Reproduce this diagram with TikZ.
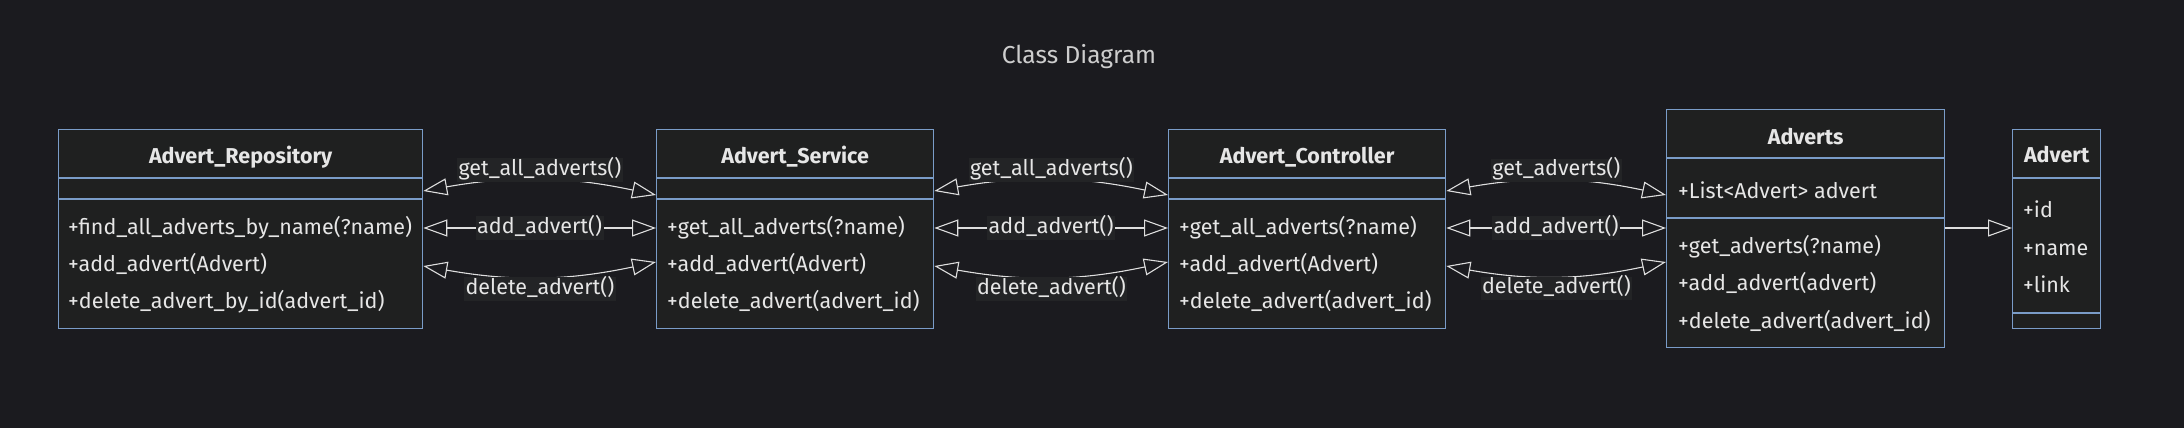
\documentclass[tikz,border=0pt]{standalone}
\usepackage{fontspec}
\setmainfont{Fira Sans}
\usetikzlibrary{positioning}
\usetikzlibrary{arrows.meta}
\usetikzlibrary{calc}

\definecolor{bgcol}{RGB}{27,27,31}
\definecolor{boxfill}{RGB}{31,32,32}
\definecolor{boxline}{RGB}{122,156,200}
\definecolor{edgecol}{RGB}{222,222,222}
\definecolor{txtcol}{RGB}{230,230,230}
\definecolor{titlecol}{RGB}{205,205,205}
\definecolor{lblbg}{RGB}{35,36,38}

\tikzset{opentri/.tip={Triangle[open, length=24pt, width=17pt]}}

\begin{document}
\begin{tikzpicture}[x=1pt, y=-1pt,
  every node/.style={font=\fontsize{21.5}{25}\selectfont, text=txtcol},
  classbox/.style={draw=boxline, fill=boxfill, line width=1.3pt, inner sep=0pt, anchor=north west},
  classname/.style={font=\fontsize{21.5}{25}\selectfont\bfseries, inner sep=0pt, text height=15.5pt, text depth=0pt},
  member/.style={anchor=west, inner sep=0pt, text height=15.5pt, text depth=0pt},
  divider/.style={draw=boxline, line width=1.3pt},
  rel/.style={draw=edgecol, line width=1.1pt, opentri-opentri},
  edgelabel/.style={fill=lblbg, inner sep=1.5pt, text height=15.5pt, text depth=5pt}]

  % background
  \fill[bgcol] (0,0) rectangle (2184,428);
  \node[text=titlecol, font=\fontsize{24.5}{29}\selectfont] (title) at (1079,57) {Class Diagram};

  % the three service layers
  \foreach \n/\x/\w in {repo/58/364, service/656/277, controller/1168/277} {
    \node[classbox, minimum width=\w pt, minimum height=199pt] (\n) at (\x,129) {};
    \draw[divider] (\n.west |- 0,178) -- (\n.east |- 0,178);
    \draw[divider] (\n.west |- 0,199) -- (\n.east |- 0,199);
  }
  \node[classbox, minimum width=278pt, minimum height=238pt] (adverts) at (1666,109) {};
  \draw[divider] (adverts.west |- 0,158) -- (adverts.east |- 0,158);
  \draw[divider] (adverts.west |- 0,218) -- (adverts.east |- 0,218);
  \node[classbox, minimum width=88pt, minimum height=199pt] (advert) at (2012,129) {};
  \draw[divider] (advert.west |- 0,178) -- (advert.east |- 0,178);
  \draw[divider] (advert.west |- 0,313) -- (advert.east |- 0,313);

  % class names
  \node[classname] (repo-name) at (repo.north |- 0,156) {Advert\_Repository};
  \node[classname] (service-name) at (service.north |- 0,156) {Advert\_Service};
  \node[classname] (controller-name) at (controller.north |- 0,156) {Advert\_Controller};
  \node[classname] (adverts-name) at (adverts.north |- 0,137) {Adverts};
  \node[classname] (advert-name) at (advert.north |- 0,155) {Advert};

  % members
  \node[member] (repo-m1) at (68,227) {+find\_all\_adverts\_by\_name(?name)};
  \node[member] (repo-m2) at (68,264) {+add\_advert(Advert)};
  \node[member] (repo-m3) at (68,301) {+delete\_advert\_by\_id(advert\_id)};
  \node[member] (service-m1) at (667,227) {+get\_all\_adverts(?name)};
  \node[member] (service-m2) at (667,264) {+add\_advert(Advert)};
  \node[member] (service-m3) at (667,301) {+delete\_advert(advert\_id)};
  \node[member] (controller-m1) at (1179,227) {+get\_all\_adverts(?name)};
  \node[member] (controller-m2) at (1179,264) {+add\_advert(Advert)};
  \node[member] (controller-m3) at (1179,301) {+delete\_advert(advert\_id)};
  \node[member] (adverts-a1) at (1678,191) {+List<Advert> advert};
  \node[member] (adverts-m1) at (1678,246) {+get\_adverts(?name)};
  \node[member] (adverts-m2) at (1678,283) {+add\_advert(advert)};
  \node[member] (adverts-m3) at (1678,321) {+delete\_advert(advert\_id)};
  \node[member] (advert-a1) at (2023,210) {+id};
  \node[member] (advert-a2) at (2023,248) {+name};
  \node[member] (advert-a3) at (2023,285) {+link};

  % relations
  \foreach \a/\b/\g in {repo/service/get\_all\_adverts(), service/controller/get\_all\_adverts(), controller/adverts/get\_adverts()} {
    \draw[rel] (\a.east |- 0,191) to[bend left=11] node[edgelabel, yshift=10pt] {\g} (\b.west |- 0,195);
    \draw[rel] (\a.east |- 0,228) -- node[edgelabel] {add\_advert()} (\b.west |- 0,228);
    \draw[rel] (\a.east |- 0,266) to[bend right=11] node[edgelabel, yshift=-12pt] {delete\_advert()} (\b.west |- 0,262);
  }
  \draw[draw=edgecol, line width=1.1pt, -opentri] (adverts.east |- 0,228) -- (advert.west |- 0,228);
\end{tikzpicture}
\end{document}
